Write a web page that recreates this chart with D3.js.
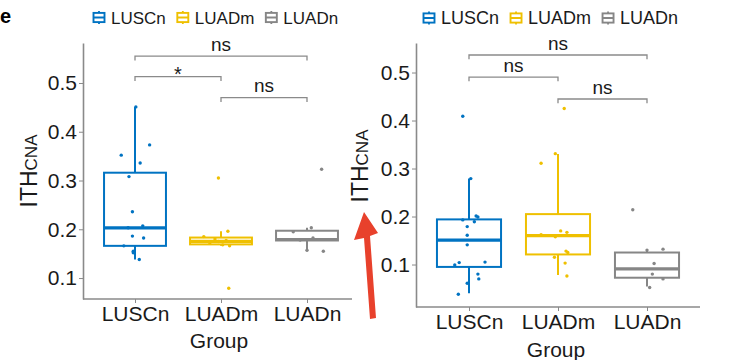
<!DOCTYPE html>
<html>
<head>
<meta charset="utf-8">
<script src="https://cdn.jsdelivr.net/npm/d3@7"></script>
<style>
  body { margin: 0; background: #fff; }
  svg { display: block; font-family: "Liberation Sans", Arial, sans-serif; }
</style>
</head>
<body>
<script>
const categories = ["LUSCn", "LUADm", "LUADn"];
const groupColors = ["#0073C2", "#EFC000", "#868686"];
const yTicks = [0.1, 0.2, 0.3, 0.4, 0.5];
const comparisons = [["LUSCn", "LUADn"], ["LUSCn", "LUADm"], ["LUADm", "LUADn"]];

// left panel - jittered points (value) and their jitter offset (in category steps)
const leftLUSCn = [0.451, 0.352, 0.373, 0.336, 0.308, 0.236, 0.203, 0.207, 0.186, 0.182, 0.166, 0.155, 0.152, 0.138];
const leftLUSCnJit = [0.01, -0.16, 0.17, 0.06, -0.07, -0.03, -0.08, 0.09, -0.03, 0.10, -0.13, -0.02, -0.02, 0.05];
const leftLUADm = [0.305, 0.196, 0.185, 0.180, 0.177, 0.175, 0.172, 0.168, 0.166, 0.079];
const leftLUADmJit = [-0.03, 0.08, -0.2, -0.07, 0.06, -0.03, -0.13, 0.02, 0.1, 0.09];
const leftLUADn = [0.323, 0.203, 0.195, 0.182, 0.178, 0.157, 0.155];
const leftLUADnJit = [0.17, 0.05, -0.16, 0.07, -0.08, 0, 0.19];
// box stats: [lower whisker, q1, median, q3, upper whisker]
const leftBoxes = [
  [0.138, 0.166, 0.203, 0.316, 0.451],
  [0.166, 0.169, 0.175, 0.183, 0.196],
  [0.155, 0.177, 0.179, 0.197, 0.203]
];
const leftSignif = ["ns", "*", "ns"];
const leftBracketY = [0.555, 0.513, 0.470];

// right panel
const rightLUSCn = [0.409, 0.279, 0.201, 0.199, 0.193, 0.189, 0.179, 0.161, 0.141, 0.104, 0.099, 0.105, 0.080, 0.070, 0.061, 0.038];
const rightLUSCnJit = [-0.07, 0.02, 0.08, 0.1, -0.07, 0.06, -0.02, -0.02, -0.02, -0.11, -0.16, 0.18, 0.1, 0.11, -0.02, -0.12];
const rightLUADm = [0.425, 0.331, 0.311, 0.170, 0.167, 0.162, 0.158, 0.128, 0.125, 0.115, 0.103, 0.076];
const rightLUADmJit = [0.07, -0.03, -0.19, 0.03, 0.1, -0.19, -0.03, 0.09, 0.11, -0.04, 0.08, 0.1];
const rightLUADn = [0.214, 0.132, 0.130, 0.102, 0.080, 0.070, 0.052];
const rightLUADnJit = [-0.16, 0.18, 0, 0.08, 0.06, 0.18, 0.03];
const rightBoxes = [
  [0.040, 0.095, 0.151, 0.194, 0.279],
  [0.078, 0.121, 0.160, 0.205, 0.330],
  [0.054, 0.0725, 0.091, 0.125, 0.130]
];
const rightSignif = ["ns", "ns", "ns"];
const rightBracketY = [0.5365, 0.4906, 0.4448];

const svg = d3.select("body").append("svg")
    .attr("width", 744)
    .attr("height", 360);

const axisColor = "#8a8a8a";

function drawPanel(p) {
    const g = svg.append("g");
    const x = d3.scalePoint().domain(categories).range(p.centers);
    const step = x.step();
    const y = d3.scaleLinear().domain(p.domain).range([p.bottom, p.top]);
    const boxW = 0.72 * step;

    // y axis
    const yAxis = g.append("g")
        .attr("transform", `translate(${p.left},0)`)
        .call(d3.axisLeft(y).tickValues(yTicks).tickFormat(d3.format(".1f")).tickSize(4).tickSizeOuter(0).tickPadding(2));
    yAxis.select(".domain").attr("stroke", axisColor).attr("stroke-width", 1.6);
    yAxis.selectAll(".tick line").attr("stroke", axisColor);
    yAxis.selectAll(".tick text").attr("fill", "#1a1a1a").style("font-size", "21px");

    // x axis
    const xAxis = g.append("g")
        .attr("transform", `translate(0,${p.bottom})`)
        .call(d3.axisBottom(x).tickSize(4).tickPadding(3));
    xAxis.select(".domain").remove();
    xAxis.selectAll(".tick line").attr("stroke", axisColor);
    xAxis.selectAll(".tick text").attr("fill", "#1a1a1a").style("font-size", "21px");
    g.append("line")
        .attr("x1", p.left).attr("x2", p.right)
        .attr("y1", p.bottom).attr("y2", p.bottom)
        .attr("stroke", axisColor).attr("stroke-width", 1.6);

    // boxes
    categories.forEach((c, i) => {
        const b = p.boxes[i];
        const cx = x(c);
        const col = groupColors[i];
        const bg = g.append("g").attr("stroke", col).attr("fill", "none");
        bg.append("line").attr("x1", cx).attr("x2", cx).attr("y1", y(b[3])).attr("y2", y(b[4])).attr("stroke-width", 2);
        bg.append("line").attr("x1", cx).attr("x2", cx).attr("y1", y(b[1])).attr("y2", y(b[0])).attr("stroke-width", 2);
        bg.append("rect")
            .attr("x", cx - boxW / 2).attr("width", boxW)
            .attr("y", y(b[3])).attr("height", y(b[1]) - y(b[3]))
            .attr("fill", "#fff").attr("stroke-width", 2);
        bg.append("line").attr("x1", cx - boxW / 2).attr("x2", cx + boxW / 2)
            .attr("y1", y(b[2])).attr("y2", y(b[2])).attr("stroke-width", 3.2);
    });

    // jitter points
    categories.forEach((c, i) => {
        const vals = p.values[i];
        const jit = p.jitter[i];
        g.append("g").selectAll("circle")
            .data(vals)
            .join("circle")
            .attr("cx", (d, k) => x(c) + jit[k] * step)
            .attr("cy", d => y(d))
            .attr("r", 1.7)
            .attr("fill", groupColors[i]);
    });

    // significance brackets
    const tick = 0.009;
    comparisons.forEach((cmp, i) => {
        const x1 = x(cmp[0]), x2 = x(cmp[1]);
        const by = y(p.bracketY[i]);
        const ty = y(p.bracketY[i] - tick);
        g.append("path")
            .attr("d", `M${x1},${ty}V${by}H${x2}V${ty}`)
            .attr("fill", "none")
            .attr("stroke", axisColor)
            .attr("stroke-width", 1.3);
        const star = p.signif[i] === "*";
        g.append("text")
            .attr("x", (x1 + x2) / 2)
            .attr("y", by - 5.5)
            .attr("dy", star ? "0.5em" : 0)
            .attr("text-anchor", "middle")
            .attr("fill", "#1a1a1a")
            .style("font-size", star ? "20px" : "19px")
            .text(p.signif[i]);
    });

    // axis titles
    const yt = g.append("text")
        .attr("transform", `translate(${p.titleX},${p.titleY}) rotate(-90)`)
        .attr("text-anchor", "middle")
        .attr("fill", "#1a1a1a");
    yt.append("tspan").style("font-size", "23px").text("ITH");
    yt.append("tspan").style("font-size", "17px").text("CNA");

    g.append("text")
        .attr("x", x("LUADm") - 2)
        .attr("y", p.groupY)
        .attr("text-anchor", "middle")
        .attr("fill", "#1a1a1a")
        .style("font-size", "21px")
        .text("Group");

    // legend
    let lx = p.legendX;
    categories.forEach((c, i) => {
        const col = groupColors[i];
        const cy = p.legendY;
        const s = 12;
        const key = g.append("g").attr("stroke", col).attr("fill", "none");
        key.append("line").attr("x1", lx + s / 2).attr("x2", lx + s / 2).attr("y1", cy - 6.5).attr("y2", cy + 6.5).attr("stroke-width", 1.8);
        key.append("rect").attr("x", lx + 0.5).attr("y", cy - 4.6).attr("width", s - 1).attr("height", 9.2).attr("fill", "#fff").attr("stroke-width", 1.9);
        key.append("line").attr("x1", lx + 0.5).attr("x2", lx + s - 0.5).attr("y1", cy).attr("y2", cy).attr("stroke-width", 2);
        const t = g.append("text")
            .attr("x", lx + s + 6)
            .attr("y", cy + 0.36 * p.legendFont)
            .attr("fill", "#1a1a1a")
            .style("font-size", p.legendFont + "px")
            .text(c);
        lx += s + 6 + t.node().getComputedTextLength() + 11;
    });
}

drawPanel({
    left: 83, right: 352, top: 43, bottom: 299,
    domain: [0.057, 0.582], centers: [135, 307],
    values: [leftLUSCn, leftLUADm, leftLUADn],
    jitter: [leftLUSCnJit, leftLUADmJit, leftLUADnJit],
    boxes: leftBoxes, bracketY: leftBracketY, signif: leftSignif,
    legendX: 93, legendY: 17.5, legendFont: 17,
    titleX: 37, titleY: 171, groupY: 348
});

drawPanel({
    left: 416, right: 700, top: 43, bottom: 307,
    domain: [0.0115, 0.5615], centers: [469, 647],
    values: [rightLUSCn, rightLUADm, rightLUADn],
    jitter: [rightLUSCnJit, rightLUADmJit, rightLUADnJit],
    boxes: rightBoxes, bracketY: rightBracketY, signif: rightSignif,
    legendX: 423, legendY: 18, legendFont: 18,
    titleX: 368, titleY: 166, groupY: 357
});

// panel tag
svg.append("text")
    .attr("x", 0).attr("y", 23)
    .style("font-size", "20px").style("font-weight", "bold")
    .text("e");

// red arrow annotation
svg.append("path")
    .attr("d", "M364,212 L378,233 L370,236 L376,318 L370,319 L364,238 L354,240 Z")
    .attr("fill", "#e8412c");
</script>
</body>
</html>
